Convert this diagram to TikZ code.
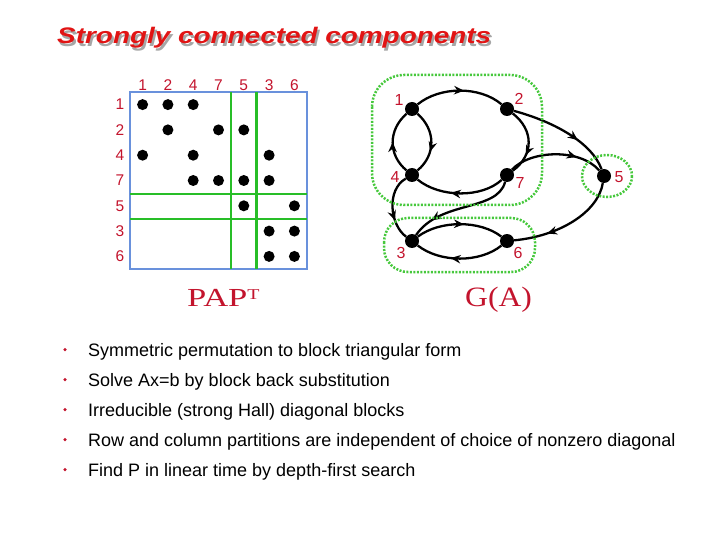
\documentclass[tikz,border=0pt]{standalone}
\usepackage{fontspec}
\setmainfont{Liberation Sans}
\newfontfamily\serifrm{Liberation Serif}
\usetikzlibrary{decorations.markings,arrows.meta}
\definecolor{titlered}{RGB}{225,20,20}
\definecolor{crim}{RGB}{195,20,45}
\definecolor{mgreen}{RGB}{40,190,40}
\definecolor{lgreen}{RGB}{70,200,60}
\definecolor{mblue}{RGB}{105,145,220}
\newcommand{\titletext}{\scalebox{1.24}[1]{\fontsize{22.5}{27}\selectfont\bfseries\itshape Strongly connected components}}
\begin{document}
\begin{tikzpicture}[x=1pt,y=-1pt,
  mdot/.style={circle,fill=black,inner sep=0pt,minimum size=11pt},
  gdot/.style={circle,fill=black,inner sep=0pt,minimum size=14pt},
  lab/.style={text=crim,font=\fontsize{15.5}{16}\selectfont,inner sep=0pt},
  edgeln/.style={line width=2.3pt},
  arr/.style={postaction={decorate},decoration={markings,mark=at position #1 with {\arrow{Stealth[length=10pt,width=8.5pt]}}}},
  scc/.style={draw=lgreen,line width=2.5pt,dash pattern=on 2pt off 1.5pt},
  btext/.style={anchor=base west,inner sep=0pt,font=\fontsize{18}{22}\selectfont},
  bul/.style={circle,fill=crim,inner sep=0pt,minimum size=3.5pt}
]
\useasboundingbox (0,0) rectangle (720,540);

% title with shadow (one node)
\node[anchor=base west,inner sep=0pt] (title) at (57,44)
  {\makebox[0pt][l]{\hspace{2pt}\raisebox{-2.5pt}{\color{black!35}\titletext}}\color{titlered}\titletext};

% matrix
\draw[mblue,line width=1.5pt] (130,92) rectangle (307,269);
\draw[mgreen,line width=2.5pt] (231.2,92) -- (231.2,269);
\draw[mgreen,line width=2.5pt] (256.5,92) -- (256.5,269);
\draw[mgreen,line width=2.5pt] (130,193.8) -- (307,193.8);
\draw[mgreen,line width=2.5pt] (130,219.1) -- (307,219.1);
\foreach \l [count=\i from 0] in {1,2,4,7,5,3,6} {
  \node[lab] (c\l) at (142.6+25.3*\i,85) {\l};
  \node[lab] (r\l) at (120,104.6+25.3*\i) {\l};
}
\foreach \r/\c in {0/0,0/1,0/2,1/1,1/3,1/4,2/0,2/2,2/5,3/2,3/3,3/4,3/5,4/4,4/6,5/5,5/6,6/5,6/6}
  \node[mdot] (m\r\c) at (142.6+25.3*\c,104.6+25.3*\r) {};

\node[anchor=base west,inner sep=0pt,text=crim] (pap) at (187,306)
  {\scalebox{1.33}[1]{\serifrm\fontsize{26}{30}\selectfont PAP\raisebox{6.5pt}{\fontsize{15}{15}\selectfont T}}};

% graph
\node[gdot] (n1) at (412,109) {};
\node[gdot] (n2) at (507,109) {};
\node[gdot] (n4) at (412,175) {};
\node[gdot] (n7) at (507,175) {};
\node[gdot] (n5) at (604,176) {};
\node[gdot] (n3) at (412,241) {};
\node[gdot] (n6) at (507,241) {};

\node[lab,font=\fontsize{16}{16}\selectfont] (l1) at (399,100) {1};
\node[lab,font=\fontsize{16}{16}\selectfont] (l2) at (519,99) {2};
\node[lab,font=\fontsize{16}{16}\selectfont] (l4) at (395,177) {4};
\node[lab,font=\fontsize{16}{16}\selectfont] (l7) at (520,183) {7};
\node[lab,font=\fontsize{16}{16}\selectfont] (l5) at (619,177) {5};
\node[lab,font=\fontsize{16}{16}\selectfont] (l3) at (401,253) {3};
\node[lab,font=\fontsize{16}{16}\selectfont] (l6) at (518,253) {6};

\draw[edgeln,arr=0.55] (n1) .. controls (440,86) and (480,86) .. (n2);
\draw[edgeln,arr=0.5] (n4) .. controls (388,155) and (388,130) .. (n1);
\draw[edgeln,arr=0.65] (n1) .. controls (436,130) and (436,155) .. (n4);
\draw[edgeln,arr=0.7] (n2) .. controls (534,130) and (534,155) .. (n7);
\draw[edgeln,arr=0.6] (n7) .. controls (482,198) and (440,198) .. (n4);
\draw[edgeln,arr=0.65] (n2) .. controls (555,122) and (592,143) .. (n5);
\draw[edgeln,arr=0.72] (n7) .. controls (530,150) and (580,148) .. (n5);
\draw[edgeln,arr=0.7] (n5) .. controls (598,212) and (560,236) .. (n6);
\draw[edgeln,arr=0.7] (n4) .. controls (386,190) and (390,225) .. (n3);
\draw[edgeln,arr=0.8] (n7) .. controls (497,212) and (440,200) .. (n3);
\draw[edgeln,arr=0.55] (n3) .. controls (440,220) and (480,220) .. (n6);
\draw[edgeln,arr=0.6] (n6) .. controls (480,263) and (440,263) .. (n3);

\draw[scc,rounded corners=32pt] (372,75) rectangle (542,205);
\draw[scc] (607,176) ellipse [x radius=25, y radius=21];
\draw[scc,rounded corners=24pt] (384,218) rectangle (535,272);

\node[anchor=base west,inner sep=0pt,text=crim] (ga) at (465,306)
  {\scalebox{1.13}[1]{\serifrm\fontsize{28}{32}\selectfont G(A)}};

% bullets
\foreach \t [count=\i from 0] in {Symmetric permutation to block triangular form,
  Solve Ax=b by block back substitution,
  Irreducible (strong Hall) diagonal blocks,
  Row and column partitions are independent of choice of nonzero diagonal,
  Find P in linear time by depth-first search} {
  \node[bul] (b\i) at (65,349.5+30*\i) {};
  \node[btext] (t\i) at (88,356+30*\i) {\t};
}
\end{tikzpicture}
\end{document}
